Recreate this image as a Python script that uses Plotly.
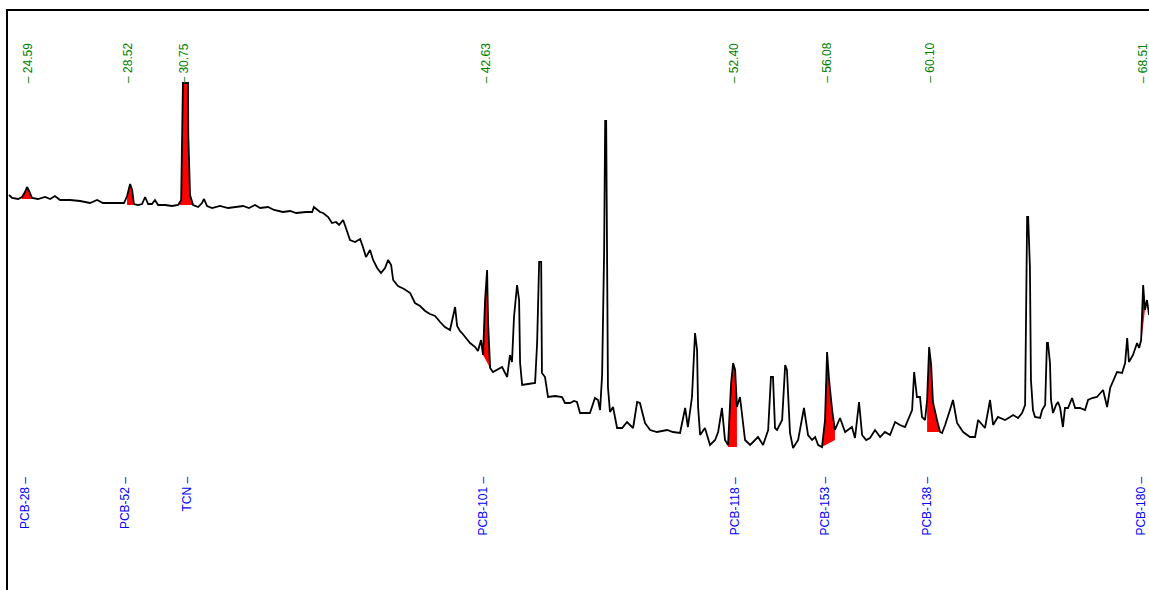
import numpy as np
import plotly.graph_objects as go

# ---- chromatogram trace (retention time in minutes, detector signal in arbitrary units) ----
rt_min = [
    23.84, 23.96, 24.20, 24.35, 24.47, 24.55, 24.63, 24.75, 24.98, 25.26, 25.46, 25.65, 25.85, 26.24,
    26.64, 27.03, 27.31, 27.54, 28.02, 28.37, 28.49, 28.61, 28.69, 28.76, 28.92, 29.08, 29.20, 29.32,
    29.47, 29.59, 29.71, 29.99, 30.26, 30.50, 30.62, 30.69, 30.89, 30.90, 30.97, 31.09, 31.29, 31.44,
    31.52, 31.64, 31.84, 32.15, 32.47, 32.78, 33.06, 33.29, 33.53, 33.73, 34.04, 34.28, 34.52, 34.63,
    34.91, 35.15, 35.54, 35.78, 35.85, 36.01, 36.09, 36.21, 36.41, 36.56, 36.72, 36.84, 37.00, 37.11,
    37.27, 37.47, 37.67, 37.78, 37.90, 38.06, 38.18, 38.34, 38.49, 38.65, 38.77, 38.89, 38.97, 39.16,
    39.40, 39.64, 39.83, 40.03, 40.23, 40.42, 40.62, 40.82, 41.01, 41.21, 41.33, 41.41, 41.49, 41.60,
    41.68, 41.80, 42.00, 42.20, 42.31, 42.43, 42.51, 42.59, 42.67, 42.71, 42.79, 42.90, 43.06, 43.26,
    43.46, 43.57, 43.65, 43.73, 43.85, 43.93, 43.97, 44.05, 44.28, 44.56, 44.64, 44.72, 44.80, 44.83,
    44.95, 45.07, 45.35, 45.62, 45.74, 45.94, 46.09, 46.21, 46.33, 46.53, 46.72, 46.92, 47.04, 47.12,
    47.20, 47.28, 47.32, 47.36, 47.39, 47.43, 47.51, 47.63, 47.79, 47.99, 48.18, 48.42, 48.58, 48.69,
    48.89, 49.09, 49.36, 49.76, 49.99, 50.27, 50.47, 50.58, 50.74, 50.82, 50.86, 50.94, 50.98, 51.06,
    51.25, 51.45, 51.65, 51.77, 51.92, 52.04, 52.16, 52.28, 52.36, 52.44, 52.51, 52.63, 52.71, 52.83,
    53.03, 53.34, 53.54, 53.74, 53.85, 53.93, 54.01, 54.09, 54.29, 54.41, 54.48, 54.60, 54.72, 54.92,
    55.15, 55.31, 55.47, 55.59, 55.71, 55.86, 55.98, 56.06, 56.14, 56.26, 56.37, 56.57, 56.77, 57.04,
    57.16, 57.32, 57.44, 57.60, 57.75, 57.95, 58.15, 58.34, 58.54, 58.74, 58.93, 59.13, 59.41, 59.49,
    59.60, 59.72, 59.80, 59.92, 60.00, 60.08, 60.16, 60.23, 60.39, 60.51, 60.59, 60.71, 60.90, 61.02,
    61.18, 61.42, 61.69, 61.89, 62.01, 62.16, 62.28, 62.48, 62.60, 62.79, 63.07, 63.27, 63.39, 63.58,
    63.74, 63.86, 63.90, 63.94, 63.98, 64.05, 64.09, 64.17, 64.25, 64.45, 64.53, 64.65, 64.72, 64.76,
    64.84, 64.88, 64.96, 65.08, 65.16, 65.24, 65.35, 65.43, 65.55, 65.71, 65.83, 66.02, 66.22, 66.34,
    66.50, 66.69, 66.93, 67.09, 67.21, 67.32, 67.48, 67.68, 67.80, 67.88, 67.95, 68.11, 68.27, 68.35,
    68.43, 68.51, 68.58, 68.66, 68.74,
]
signal = [
    395, 392, 391, 393, 398, 403, 399, 392, 391, 393, 391, 394, 390, 390,
    389, 387, 390, 387, 387, 387, 394, 406, 400, 386, 385, 386, 393, 386,
    386, 390, 385, 385, 384, 385, 390, 507, 507, 457, 395, 385, 383, 387,
    391, 384, 382, 384, 382, 383, 384, 382, 385, 382, 383, 380, 379, 378,
    379, 377, 378, 378, 383, 380, 378, 377, 373, 367, 368, 365, 370, 362,
    350, 348, 351, 343, 333, 340, 330, 322, 317, 322, 330, 325, 310, 304,
    301, 297, 287, 284, 279, 276, 274, 268, 263, 260, 272, 283, 264, 259,
    257, 253, 247, 243, 239, 250, 235, 290, 320, 267, 222, 218, 220, 223,
    213, 235, 228, 273, 305, 290, 227, 205, 206, 207, 247, 328, 328, 217,
    213, 193, 194, 193, 187, 187, 189, 188, 177, 177, 177, 192, 190, 180,
    215, 340, 469, 469, 332, 203, 178, 183, 162, 162, 168, 162, 188, 187,
    167, 160, 158, 160, 158, 157, 182, 163, 193, 245, 257, 240, 183, 155,
    162, 145, 150, 158, 182, 150, 145, 207, 227, 220, 183, 193, 173, 150,
    145, 153, 145, 160, 213, 213, 162, 160, 170, 225, 220, 157, 142, 150,
    182, 155, 150, 153, 145, 143, 170, 238, 210, 180, 160, 172, 158, 163,
    152, 188, 155, 150, 152, 160, 153, 158, 155, 168, 165, 163, 180, 218,
    193, 193, 173, 170, 190, 243, 225, 188, 170, 158, 157, 165, 180, 190,
    167, 158, 153, 153, 170, 165, 162, 190, 165, 173, 170, 173, 175, 172,
    177, 185, 260, 373, 373, 323, 210, 180, 173, 172, 180, 185, 247, 247,
    227, 190, 177, 185, 188, 182, 163, 182, 182, 192, 182, 182, 180, 190,
    192, 193, 200, 183, 202, 208, 218, 217, 227, 252, 228, 235, 247, 242,
    250, 305, 280, 290, 275,
]

# ---- identified peaks ----
found_rt = [24.59, 28.52, 30.75, 42.63, 52.40, 56.08, 60.10, 68.51]
found_text = ["24.59", "28.52", "30.75", "42.63", "52.40", "56.08", "60.10", "68.51"]
compounds = ["PCB-28", "PCB-52", "TCN", "PCB-101", "PCB-118", "PCB-153", "PCB-138", "PCB-180"]
expected_rt = [24.47, 28.41, 30.85, 42.47, 52.44, 55.94, 59.96, 68.39]

# integration windows and baseline levels for the shaded (integrated) areas
peak_start = [24.35, 28.49, 30.50, 42.51, 52.16, 55.86, 60.00, 68.43]
peak_end = [24.75, 28.76, 31.09, 42.79, 52.51, 56.37, 60.51, 68.58]
base_start = [391, 385, 385, 235, 143, 143, 158, 247]
base_end = [391, 385, 385, 222, 143, 150, 158, 280]

t = np.array(rt_min)
s = np.array(signal)

fig = go.Figure()

for a, b, ba, bb in zip(peak_start, peak_end, base_start, base_end):
    m = (t >= a - 1e-9) & (t <= b + 1e-9)
    xs = [a] + list(t[m]) + [b]
    ys = [ba] + list(s[m]) + [bb]
    fig.add_trace(go.Scatter(x=xs, y=ys, mode="lines", fill="toself",
                             fillcolor="#ff0000", line=dict(width=0, color="#ff0000"),
                             hoverinfo="skip", showlegend=False))

fig.add_trace(go.Scatter(x=rt_min, y=signal, mode="lines",
                         line=dict(color="#000000", width=1.8),
                         showlegend=False))

annotations = []
for rt, txt in zip(found_rt, found_text):
    annotations.append(dict(x=rt, y=0.872, xref="x", yref="paper", text="\u2013 " + txt,
                            textangle=-90, showarrow=False, xanchor="center", yanchor="bottom",
                            font=dict(family="Liberation Sans, Arial", size=12, color="#008000")))
for rt, name in zip(expected_rt, compounds):
    annotations.append(dict(x=rt, y=0.1986, xref="x", yref="paper", text=name + " \u2013",
                            textangle=-90, showarrow=False, xanchor="center", yanchor="top",
                            font=dict(family="Liberation Sans, Arial", size=12, color="#0000ff")))

fig.update_layout(
    width=1149, height=590,
    margin=dict(l=8, r=0, t=11, b=0, pad=0),
    paper_bgcolor="white", plot_bgcolor="white",
    showlegend=False,
    annotations=annotations,
    xaxis=dict(range=[23.80, 68.74], side="top", showline=True, linecolor="black", linewidth=2,
               showticklabels=False, ticks="", showgrid=False, zeroline=False, automargin=False),
    yaxis=dict(range=[0, 579], showline=True, linecolor="black", linewidth=2,
               showticklabels=False, ticks="", showgrid=False, zeroline=False, automargin=False),
)

fig.write_html("out.html", config={"displayModeBar": False},
               post_script="document.body.style.margin='0';document.body.style.overflow='hidden';")
